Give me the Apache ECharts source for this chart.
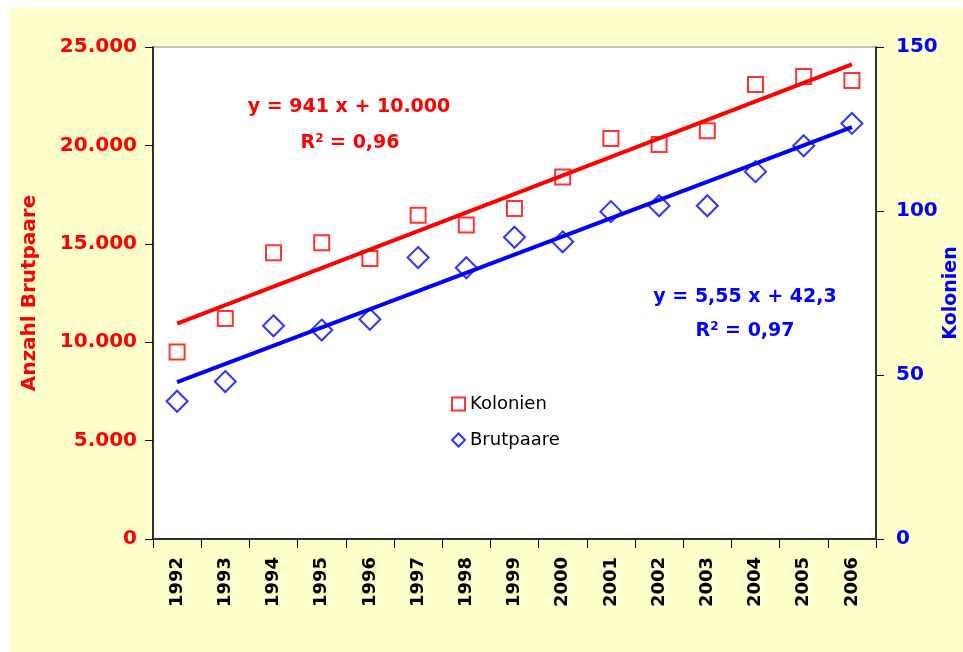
<!DOCTYPE html>
<html>
<head>
<meta charset="utf-8">
<script src="https://cdn.jsdelivr.net/npm/echarts@6/dist/echarts.min.js"></script>
<style>
html,body{margin:0;padding:0;background:#fff;overflow:hidden;}
#wrap{position:absolute;left:9px;top:8px;width:954px;height:644px;background:#FFFFCC;}
#chart{position:absolute;left:0;top:0;width:963px;height:652px;}
</style>
</head>
<body>
<div id="wrap"></div>
<div id="chart"></div>
<script>
const years = ['1992','1993','1994','1995','1996','1997','1998','1999','2000','2001','2002','2003','2004','2005','2006'];
// red squares (left axis) - labelled "Kolonien" in the legend
const kolonien = [9500, 11200, 14550, 15050, 14250, 16450, 15950, 16800, 18400, 20350, 20050, 20750, 23100, 23500, 23300];
// blue diamonds (right axis) - labelled "Brutpaare" in the legend
const brutpaare = [42, 48, 65, 63.7, 67, 85.8, 82.7, 92, 90.6, 99.8, 101.6, 101.6, 112, 119.9, 126.7];
// trend line end points (from the displayed equations)
const trendRed = [['1992', 10941], ['2006', 24115]];
const trendBlue = [['1992', 47.85], ['2006', 125.55]];
const leftTicks = [0, 5000, 10000, 15000, 20000, 25000];
const rightTicks = [0, 50, 100, 150];

const FONT = '"DejaVu Sans", Verdana, sans-serif';
const chart = echarts.init(document.getElementById('chart'), null, {renderer: 'canvas'});
function dots(v){ return String(v).replace(/\B(?=(\d{3})+(?!\d))/g, '.'); }

chart.setOption({
  backgroundColor: 'transparent',
  animation: false,
  textStyle: {fontFamily: FONT},
  grid: {left: 153, right: 87, top: 47, bottom: 113, containLabel: false, outerBoundsMode: 'none',
         show: true, backgroundColor: '#ffffff', borderColor: '#808080', borderWidth: 1},
  xAxis: {
    type: 'category', data: years, boundaryGap: true,
    axisLine: {lineStyle: {color: '#000', width: 1.5}},
    axisTick: {show: true, length: 9, lineStyle: {color: '#000'}},
    axisLabel: {rotate: 90, margin: 18, color: '#000', fontWeight: 'bold', fontSize: 18, fontFamily: FONT},
    splitLine: {show: false}
  },
  yAxis: [{
    type: 'value', min: leftTicks[0], max: leftTicks[leftTicks.length-1], interval: 5000, position: 'left',
    name: 'Anzahl Brutpaare', nameLocation: 'middle', nameGap: 113, nameMoveOverlap: false,
    nameTextStyle: {color: '#ff0000', fontWeight: 'bold', fontSize: 20, fontFamily: FONT},
    axisLine: {show: true, lineStyle: {color: '#000', width: 1.5}},
    axisTick: {show: true, length: 8, lineStyle: {color: '#000'}},
    axisLabel: {margin: 16, color: '#ff0000', fontWeight: 'bold', fontSize: 20, fontFamily: FONT, formatter: dots},
    splitLine: {show: false}
  }, {
    type: 'value', min: rightTicks[0], max: rightTicks[rightTicks.length-1], interval: 50, position: 'right',
    name: 'Kolonien', nameLocation: 'middle', nameGap: 66, nameMoveOverlap: false,
    nameTextStyle: {color: '#0000ff', fontWeight: 'bold', fontSize: 19, fontFamily: FONT},
    axisLine: {show: true, lineStyle: {color: '#000', width: 1.5}},
    axisTick: {show: true, length: 8, lineStyle: {color: '#000'}},
    axisLabel: {margin: 20, color: '#0000ff', fontWeight: 'bold', fontSize: 20, fontFamily: FONT},
    splitLine: {show: false}
  }],
  legend: {
    orient: 'vertical', left: 446, top: 390, itemGap: 18, itemWidth: 13, itemHeight: 13,
    textStyle: {color: '#000', fontSize: 18, fontFamily: FONT},
    data: [
      {name: 'Kolonien', icon: 'rect', itemStyle: {color: 'transparent', borderColor: '#ff0000', borderWidth: 2}},
      {name: 'Brutpaare', icon: 'diamond', itemStyle: {color: 'transparent', borderColor: '#0000ff', borderWidth: 2}}
    ]
  },
  series: [
    {name: 'trendRed', type: 'line', yAxisIndex: 0, data: trendRed, symbol: 'none', lineStyle: {color: '#ff0000', width: 4}, z: 3, silent: true},
    {name: 'trendBlue', type: 'line', yAxisIndex: 1, data: trendBlue, symbol: 'none', lineStyle: {color: '#0000ff', width: 4}, z: 3, silent: true},
    {name: 'Kolonien', type: 'scatter', yAxisIndex: 0, data: kolonien, symbol: 'rect', symbolSize: 15,
     itemStyle: {color: 'transparent', borderColor: '#ff0000', borderWidth: 2}, z: 4},
    {name: 'Brutpaare', type: 'scatter', yAxisIndex: 1, data: brutpaare, symbol: 'diamond', symbolSize: 21,
     itemStyle: {color: 'transparent', borderColor: '#0000ff', borderWidth: 2}, z: 4}
  ],
  graphic: [
    {type: 'text', x: 349, y: 107, style: {text: 'y = 941 x + 10.000', fill: '#ff0000', font: 'bold 19px ' + FONT, textAlign: 'center', textVerticalAlign: 'middle'}},
    {type: 'text', x: 350, y: 143, style: {text: 'R{s|2} = 0,96', fill: '#ff0000', font: 'bold 19px ' + FONT, textAlign: 'center', textVerticalAlign: 'middle',
      rich: {s: {fontSize: 12, fontWeight: 'bold', fill: '#ff0000', verticalAlign: 'top', fontFamily: FONT, padding: [0,0,8,0]}}}},
    {type: 'text', x: 745, y: 297, style: {text: 'y = 5,55 x + 42,3', fill: '#0000ff', font: 'bold 19px ' + FONT, textAlign: 'center', textVerticalAlign: 'middle'}},
    {type: 'text', x: 745, y: 331, style: {text: 'R{s|2} = 0,97', fill: '#0000ff', font: 'bold 19px ' + FONT, textAlign: 'center', textVerticalAlign: 'middle',
      rich: {s: {fontSize: 12, fontWeight: 'bold', fill: '#0000ff', verticalAlign: 'top', fontFamily: FONT, padding: [0,0,8,0]}}}}
  ]
});
</script>
</body>
</html>
